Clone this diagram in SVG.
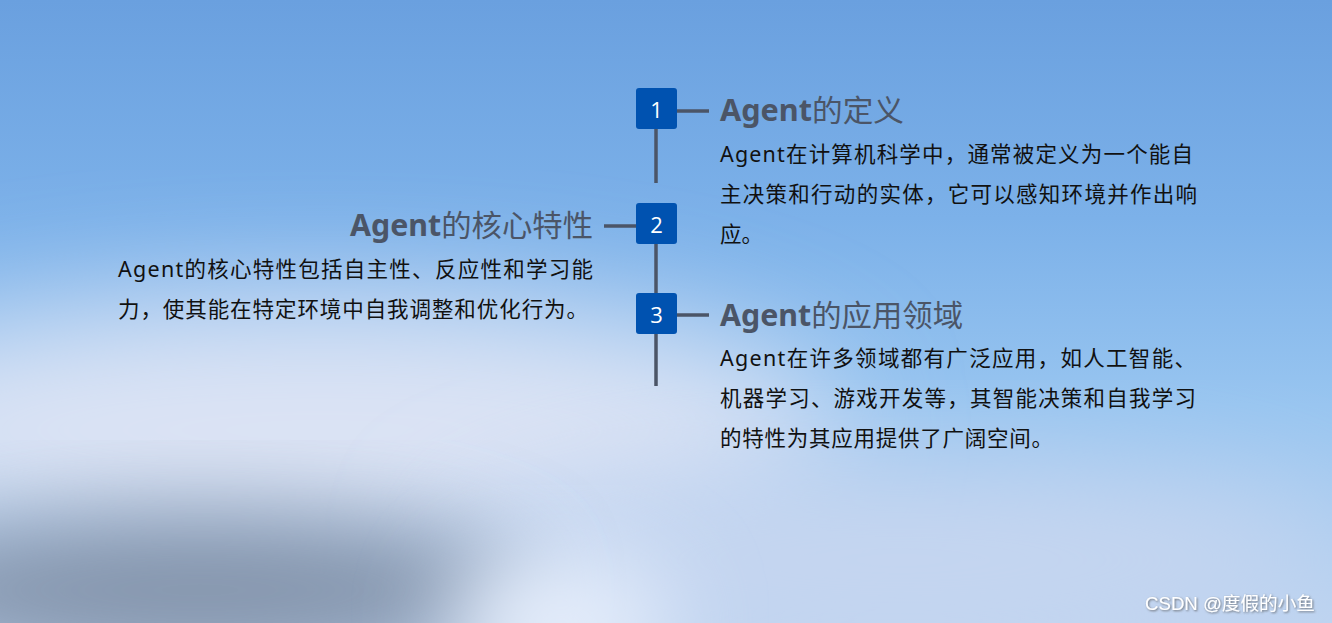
<svg xmlns="http://www.w3.org/2000/svg" width="1332" height="623" viewBox="0 0 1332 623">
<defs>
<linearGradient id="bg" x1="0" y1="0" x2="0" y2="1">
<stop offset="0" stop-color="#6aa0df"/>
<stop offset="0.35" stop-color="#7cb1e9"/>
<stop offset="0.65" stop-color="#98c5f0"/>
<stop offset="1" stop-color="#bcd3f0"/>
</linearGradient>
<filter id="blur" x="-50%" y="-50%" width="200%" height="200%"><feGaussianBlur stdDeviation="60"/></filter>
<filter id="blur2" x="-50%" y="-50%" width="200%" height="200%"><feGaussianBlur stdDeviation="45"/></filter>
<filter id="sh" x="-10%" y="-30%" width="120%" height="160%"><feDropShadow dx="1" dy="1" stdDeviation="0.8" flood-color="#555" flood-opacity="0.8"/></filter>
<style>
.box{fill:#0052b0}
.num{fill:#fff;font-family:"Open Sans","Noto Sans",sans-serif;font-size:22px;text-anchor:middle}
.ln{stroke:#4b5567;stroke-width:3.5;fill:none}
.ttl{fill:#4b5567;font-family:"Noto Sans","Noto Sans CJK SC",sans-serif;font-size:30px;font-weight:bold}
.cj{font-weight:normal}
.bd{fill:#111;font-family:"Noto Sans","Noto Sans CJK SC",sans-serif;font-size:21.5px}
.wm{fill:#fff;font-family:"Liberation Sans","Noto Sans CJK SC",sans-serif;font-size:18px}
</style>
</defs>
<g id="background">
<rect width="1332" height="623" fill="url(#bg)"/>
<ellipse cx="320" cy="430" rx="520" ry="130" fill="#dbe3f4" filter="url(#blur)"/>
<ellipse cx="900" cy="560" rx="450" ry="90" fill="#c6d6f0" filter="url(#blur)"/>
<ellipse cx="200" cy="590" rx="330" ry="75" fill="#8494ac" filter="url(#blur2)"/>
<ellipse cx="560" cy="625" rx="110" ry="70" fill="#e6eefb" filter="url(#blur2)"/>
</g>
<g id="connectors">
<line class="ln" x1="656" y1="129" x2="656" y2="183"/>
<line class="ln" x1="677" y1="111" x2="709" y2="111"/>
<line class="ln" x1="604" y1="226" x2="636" y2="226"/>
<line class="ln" x1="656" y1="244" x2="656" y2="293"/>
<line class="ln" x1="677" y1="315" x2="709" y2="315"/>
<line class="ln" x1="656" y1="334" x2="656" y2="386"/>
</g>
<g id="node1">
<rect class="box" x="636" y="88" width="41" height="41" rx="3"/>
<text class="num" x="656.5" y="118">1</text>
<text class="ttl" x="720" y="121" textLength="184" lengthAdjust="spacingAndGlyphs">Agent<tspan class="cj">的定义</tspan></text>
<text class="bd" x="720" y="162" textLength="473" lengthAdjust="spacing">Agent在计算机科学中，通常被定义为一个能自</text>
<text class="bd" x="720" y="202" textLength="477" lengthAdjust="spacing">主决策和行动的实体，它可以感知环境并作出响</text>
<text class="bd" x="720" y="242">应。</text>
</g>
<g id="node2">
<rect class="box" x="636" y="203" width="41" height="41" rx="3"/>
<text class="num" x="656.5" y="233">2</text>
<text class="ttl" x="350" y="236" textLength="243" lengthAdjust="spacingAndGlyphs">Agent<tspan class="cj">的核心特性</tspan></text>
<text class="bd" x="118" y="277" textLength="475" lengthAdjust="spacing">Agent的核心特性包括自主性、反应性和学习能</text>
<text class="bd" x="118" y="317" textLength="470" lengthAdjust="spacing">力，使其能在特定环境中自我调整和优化行为。</text>
</g>
<g id="node3">
<rect class="box" x="636" y="293" width="41" height="41" rx="3"/>
<text class="num" x="656.5" y="323">3</text>
<text class="ttl" x="720" y="326" textLength="243" lengthAdjust="spacingAndGlyphs">Agent<tspan class="cj">的应用领域</tspan></text>
<text class="bd" x="720" y="366" textLength="476" lengthAdjust="spacing">Agent在许多领域都有广泛应用，如人工智能、</text>
<text class="bd" x="720" y="406" textLength="476" lengthAdjust="spacing">机器学习、游戏开发等，其智能决策和自我学习</text>
<text class="bd" x="720" y="446" textLength="333" lengthAdjust="spacing">的特性为其应用提供了广阔空间。</text>
</g>
<text class="wm" x="1145" y="610" filter="url(#sh)" textLength="170" lengthAdjust="spacingAndGlyphs">CSDN @度假的小鱼</text>
</svg>
